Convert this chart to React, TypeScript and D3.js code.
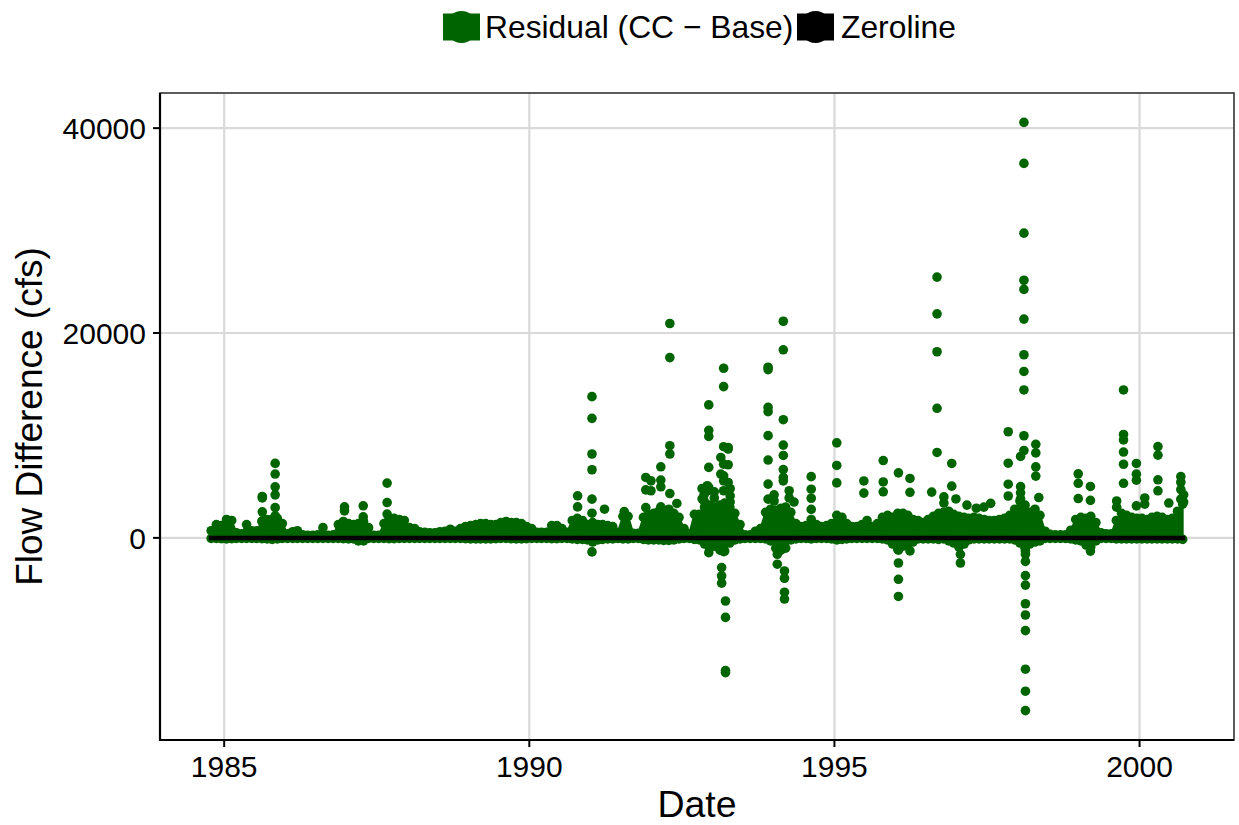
import React from "react";
import * as d3 from "d3";

// ---------------- data ----------------
const dataStart = "1984-10-01";
const dataEnd = "2000-09-30";
const bandFirstMonth = "1984-10-15";

// Monthly upper envelope of the dense daily residual cloud (cfs), Oct 1984 .. Sep 2000
const bandHigh = [
  700, 1300, 1200, 1800, 1700, 500, 400, 1300, 700, 700, 1600, 1800, // WY1985
  1800, 1900, 1400, 400, 600, 700, 300, 250, 250, 300, 1000, 250, // WY1986
  300, 1300, 1600, 1400, 1300, 1400, 1600, 1000, 250, 250, 1400, 1900, // WY1987
  1900, 1800, 1700, 1000, 900, 600, 550, 500, 500, 600, 650, 850, // WY1988
  650, 900, 1100, 1200, 1300, 1400, 1400, 1300, 1300, 1500, 1600, 1500, // WY1989
  1500, 1400, 1100, 900, 550, 550, 550, 1200, 1200, 900, 550, 1700, // WY1990
  1900, 1700, 1300, 1500, 1300, 1300, 1200, 1100, 550, 2100, 2100, 450, // WY1991
  450, 2000, 2300, 2400, 2600, 2700, 2800, 2400, 2000, 900, 400, 2300, // WY1992
  2300, 3000, 3200, 3000, 3200, 3400, 3000, 2400, 1300, 300, 300, 650, // WY1993
  900, 2500, 2800, 2700, 2900, 3000, 2500, 1400, 1100, 1200, 1800, 1300, // WY1994
  1100, 1200, 1400, 2200, 2000, 1400, 1100, 1100, 1300, 1700, 1100, 1400, // WY1995
  2000, 2200, 2000, 2400, 2400, 2200, 1800, 1700, 1500, 1800, 2100, 2400, // WY1996
  2500, 2600, 2300, 2100, 2000, 1900, 2000, 1900, 1800, 1700, 1700, 1800, // WY1997
  1900, 2200, 2800, 3600, 3200, 2500, 2800, 2200, 650, 350, 300, 300, // WY1998
  300, 750, 1800, 2000, 1900, 2100, 1500, 500, 400, 400, 1700, 2400, // WY1999
  2200, 2000, 1900, 1900, 1800, 2000, 2100, 2000, 1800, 1900, 2600, 3300, // WY2000
];

// Monthly lower envelope of the dense daily residual cloud (cfs)
const bandLow = [
  -50, -50, -80, -100, -80, -50, -50, -50, -50, -50, -80, -100,
  -150, -100, -50, -50, -50, -50, -50, -50, -50, -50, -50, -50,
  -50, -50, -80, -100, -100, -300, -300, -50, -50, -50, -50, -80,
  -80, -50, -50, -50, -50, -50, -50, -50, -50, -50, -50, -50,
  -50, -50, -80, -100, -100, -100, -100, -100, -80, -50, -50, -80,
  -100, -100, -80, -50, -50, -50, -50, -80, -80, -50, -50, -100,
  -150, -150, -200, -400, -200, -150, -100, -100, -50, -100, -100, -50,
  -50, -150, -200, -200, -200, -250, -250, -200, -100, -50, -50, -150,
  -200, -600, -1000, -800, -1200, -1300, -500, -200, -100, -50, -50, -50,
  -50, -100, -300, -1000, -1200, -1000, -200, -100, -50, -50, -100, -50,
  -50, -50, -100, -200, -150, -100, -50, -50, -50, -50, -50, -50,
  -100, -200, -600, -1100, -800, -700, -400, -100, -100, -100, -100, -150,
  -100, -300, -500, -900, -600, -200, -100, -100, -100, -100, -100, -100,
  -100, -100, -200, -500, -1000, -600, -400, -300, -50, -50, -50, -50,
  -50, -100, -200, -300, -700, -900, -300, -50, -50, -50, -100, -100,
  -100, -100, -100, -100, -100, -100, -100, -100, -100, -100, -100, -150,
];

// Individual outlying daily residuals (cfs), grouped by event date
const eventDates = [
  "1985-08-17", "1985-11-02", "1986-12-22", "1987-04-13", "1987-09-03",
  "1990-10-17", "1991-01-11", "1991-03-27", "1991-07-23", "1991-11-29",
  "1991-12-30", "1992-02-27", "1992-04-21", "1992-06-02", "1992-10-31",
  "1992-12-01", "1992-12-10", "1993-02-20", "1993-03-09", "1993-02-25",
  "1993-03-20", "1993-04-05", "1993-11-30", "1994-01-24", "1994-03-01",
  "1994-03-08", "1994-08-15", "1995-01-15", "1995-06-26", "1995-10-20",
  "1996-01-19", "1996-03-28", "1996-08-05", "1996-09-06", "1996-12-03",
  "1997-01-24", "1997-04-29", "1997-07-24", "1997-11-06", "1998-01-19",
  "1998-02-08", "1998-02-17", "1998-04-20", "1998-12-30", "1999-03-13",
  "1999-09-27", "1999-12-13", "2000-04-20", "2000-09-04",
  "1992-11-12", "1993-01-12", "1993-04-17", "1994-01-05", "1994-04-05",
  "1994-05-04", "1996-10-17", "1996-12-28", "1997-03-04", "1997-06-13",
  "1998-05-08", "1999-08-17", "2000-02-01", "2000-06-24", "2000-09-21",
];
const eventValues = [
  [4040, 3900, 2540, 1660],
  [7270, 6230, 4990, 4200, 2960, 2150],
  [3030, 2640],
  [3130, 2050],
  [5350, 3450, 2320],
  [4110, 3030],
  [13790, 11670, 8190, 6650, 3780, 2410, -1370],
  [2800],
  [2570],
  [5900, 4690, 2960],
  [5570, 4600],
  [6940, 5640, 4990, 3030],
  [20930, 17600, 9000, 8190, 4330],
  [3360],
  [4820, 3810],
  [5090, 4600],
  [12980, 10500, 9900, 6880, 4920, -620, -1440],
  [7850, 6230],
  [16560, 14770, 8900, 7200, 6060, 5570, 4600, -1340],
  [-2900, -3720, -4420],
  [-6160, -7760, -12950, -13150],
  [8830, 8670, 7140, 5410],
  [16660, 16430, 12740, 12320, 9980, 7600, 5250, 3780],
  [-1110, -1600, -2570],
  [21150, 18360, 11540, 9060, 8050, 6670, 5900, 5570],
  [-3230, -3940, -5300, -5970],
  [5980, 4750, 3870, 2780],
  [9280, 7070, 5370],
  [5560, 4370],
  [7550, 5460, 4500],
  [6350, -1200, -2450, -4040, -5720],
  [5800, 4450, -1270],
  [4470],
  [25460, 21870, 18170, 12650, 8340],
  [7265, 5050],
  [-1600, -2450],
  [2900],
  [3370],
  [10360, 7290, 5240, 4090],
  [7950, 5000, 4400, 3800],
  [40560, 36560, 29750, 25150, 24260, 21360, 17880, 16250, 14440, 9970, 8530],
  [-1330, -1600, -2300, -3680, -4610, -6430, -7530, -9050, -12820, -14965, -16860],
  [9130, 8290, 6930, 6030],
  [6250, 5330, 3840],
  [5020, 3660, -1290],
  [14440, 10100, 9560, 8380, 7190, 5330],
  [7265, 6220, 5635, 3125],
  [8910, 8075, 5670, 4595],
  [5990, 5430, 4715, 3780],
  [4200, 3600],
  [4500, 3900],
  [4800, 4100, 3500],
  [4200, 3600],
  [4600, 3900],
  [3500],
  [4000, 3400],
  [3800],
  [3200],
  [3000],
  [3940],
  [3600, 3000],
  [3900, 3300],
  [3400],
  [4200, 3500],
];

const zeroLineDates = [dataStart, dataEnd];
const zeroLineValues = [0, 0];

const xTickYears = [1985, 1990, 1995, 2000];
const yTickValues = [0, 20000, 40000];

const legendLabels = ["Residual (CC \u2212 Base)", "Zeroline"];
const legendColors = ["#006400", "#000000"];

const xTitle = "Date";
const yTitle = "Flow Difference (cfs)";

// ---------------- chart ----------------
const FONT = "'Liberation Sans', Arial, Helvetica, sans-serif";

export default function App() {
  const W = 1239;
  const H = 825;
  const P = { left: 160, right: 1234, top: 93, bottom: 740 };
  const R = 4.8;
  const GREEN = legendColors[0];
  const parse = d3.utcParse("%Y-%m-%d");

  const start = parse(dataStart) as Date;
  const end = parse(dataEnd) as Date;
  const span = +end - +start;
  const x = d3
    .scaleUtc()
    .domain([new Date(+start - span * 0.05), new Date(+end + span * 0.05)])
    .range([P.left, P.right]);

  const allVals = ([] as number[]).concat(...eventValues, bandHigh, bandLow, zeroLineValues);
  const vmin = d3.min(allVals) as number;
  const vmax = d3.max(allVals) as number;
  const vspan = vmax - vmin;
  const y = d3
    .scaleLinear()
    .domain([vmin - 0.05 * vspan, vmax + 0.05 * vspan])
    .range([P.bottom, P.top]);

  const bandStart = parse(bandFirstMonth) as Date;
  const band = bandHigh.map((hi, i) => ({
    date: d3.utcMonth.offset(bandStart, i),
    hi,
    lo: bandLow[i],
  }));
  const bandPath =
    d3
      .area<{ date: Date; hi: number; lo: number }>()
      .x((d) => x(d.date))
      .y0((d) => y(d.lo))
      .y1((d) => y(d.hi))(band) || "";

  const points = eventDates.flatMap((ds, i) => {
    const d = parse(ds) as Date;
    return eventValues[i].map((v) => ({ d, v }));
  });

  const zeroPath =
    d3
      .line<number>()
      .x((_, i) => x(parse(zeroLineDates[i]) as Date))
      .y((v) => y(v))(zeroLineValues) || "";

  const xTicks = xTickYears.map((yr) => new Date(Date.UTC(yr, 0, 1)));

  const gridColor = "#d9d9d9";
  const legendKeyX = [443, 797];
  const legendTextX = [485, 841];
  const legendY = 27;

  return (
    <svg
      width={W}
      height={H}
      style={{ position: "absolute", left: 0, top: 0, background: "#fff" }}
      fontFamily={FONT}
    >
      <rect x={0} y={0} width={W} height={H} fill="#fff" />
      {/* grid */}
      {xTicks.map((t, i) => (
        <line key={"gx" + i} x1={x(t)} x2={x(t)} y1={P.top} y2={P.bottom} stroke={gridColor} strokeWidth={2.2} />
      ))}
      {yTickValues.map((v, i) => (
        <line key={"gy" + i} x1={P.left} x2={P.right} y1={y(v)} y2={y(v)} stroke={gridColor} strokeWidth={2.2} />
      ))}

      {/* dense band of daily residuals */}
      <path d={bandPath} fill={GREEN} stroke={GREEN} strokeWidth={2} strokeLinejoin="round" />
      {band.map((b, i) => (
        <g key={"b" + i}>
          <circle cx={x(b.date)} cy={y(b.hi)} r={R} fill={GREEN} />
          <circle cx={x(b.date)} cy={y(b.lo)} r={R} fill={GREEN} />
        </g>
      ))}
      {/* outlying points */}
      {points.map((p, i) => (
        <circle key={"p" + i} cx={x(p.d)} cy={y(p.v)} r={R} fill={GREEN} />
      ))}
      {/* zero line */}
      <path d={zeroPath} stroke="#000" strokeWidth={4.5} fill="none" />

      {/* panel border */}
      <rect x={P.left} y={P.top} width={P.right - P.left} height={P.bottom - P.top} fill="none" stroke="#333" strokeWidth={1.6} />
      {/* axes */}
      <line x1={P.left} x2={P.left} y1={P.top} y2={P.bottom + 1} stroke="#000" strokeWidth={2.2} />
      <line x1={P.left - 1} x2={P.right} y1={P.bottom} y2={P.bottom} stroke="#000" strokeWidth={2.2} />

      {yTickValues.map((v, i) => (
        <g key={"yt" + i}>
          <line x1={P.left - 7} x2={P.left} y1={y(v)} y2={y(v)} stroke="#000" strokeWidth={2} />
          <text x={P.left - 14} y={y(v) + 10.8} textAnchor="end" fontSize={30} fill="#000">
            {String(v)}
          </text>
        </g>
      ))}
      {xTicks.map((t, i) => (
        <g key={"xt" + i}>
          <line x1={x(t)} x2={x(t)} y1={P.bottom} y2={P.bottom + 7} stroke="#000" strokeWidth={2} />
          <text x={x(t)} y={777} textAnchor="middle" fontSize={30} fill="#000">
            {d3.utcFormat("%Y")(t)}
          </text>
        </g>
      ))}

      <text x={(P.left + P.right) / 2} y={817} textAnchor="middle" fontSize={37.5} fill="#000">
        {xTitle}
      </text>
      <text
        transform={`translate(42, ${(P.top + P.bottom) / 2}) rotate(-90)`}
        textAnchor="middle"
        fontSize={37}
        fill="#000"
      >
        {yTitle}
      </text>

      {/* legend */}
      {legendLabels.map((lab, i) => (
        <g key={"lg" + i}>
          <rect x={legendKeyX[i]} y={legendY - 13.5} width={37} height={27} fill={legendColors[i]} />
          <circle cx={legendKeyX[i] + 18.5} cy={legendY} r={16} fill={legendColors[i]} />
          <text x={legendTextX[i]} y={legendY + 11} fontSize={31.8} fill="#000">
            {lab}
          </text>
        </g>
      ))}
    </svg>
  );
}
